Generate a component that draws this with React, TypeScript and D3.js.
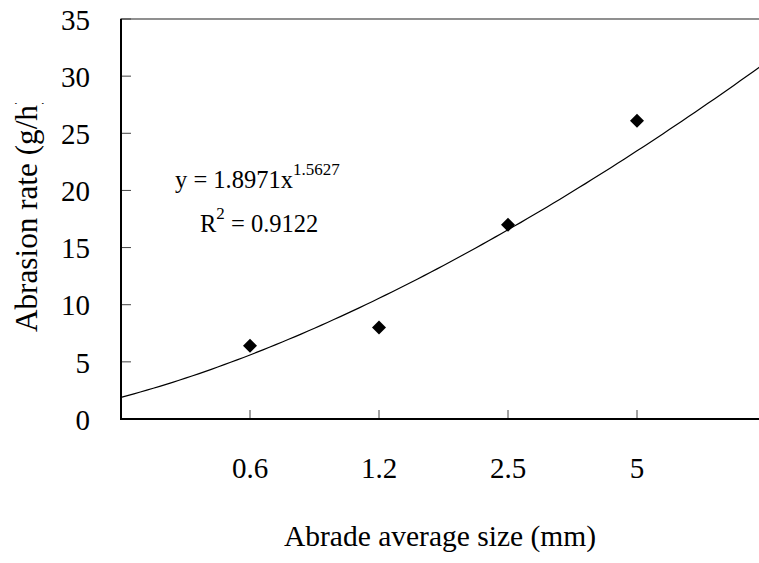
import React, { useEffect, useRef } from "react";
import * as d3 from "d3";

// categories on the x axis (shown at positions 2..5 of the trendline's x)
const categories = ["0.6", "1.2", "2.5", "5"];
// measured abrasion rate (g/h)
const abrasionRate = [6.4, 8.0, 17.0, 26.1];
const yTicks = [0, 5, 10, 15, 20, 25, 30, 35];

// power trendline as printed on the chart
const trendCoef = 1.8971;
const trendExp = 1.5627;
const rSquared = 0.9122;

const App = () => {
  const svgRef = useRef<SVGSVGElement>(null);

  useEffect(() => {
    const dims = { width: 759, height: 563, left: 121, top: 19, right: 766, bottom: 419 };

    const svg = d3.select(svgRef.current)
      .attr("width", dims.width)
      .attr("height", dims.height);
    svg.selectAll("*").remove();

    const font = "'Liberation Serif', 'Times New Roman', serif";

    const xScale = d3.scaleLinear().domain([1, 6]).range([dims.left, dims.right]);
    const yScale = d3.scaleLinear().domain([0, 35]).range([dims.bottom, dims.top]);
    const xPos = (i: number) => xScale(i + 2);

    // plot area border (top / right)
    svg.append("rect")
      .attr("x", dims.left)
      .attr("y", dims.top)
      .attr("width", dims.right - dims.left)
      .attr("height", dims.bottom - dims.top)
      .attr("fill", "none")
      .attr("stroke", "#555")
      .attr("stroke-width", 1.3);

    // trendline
    const xs = d3.range(1, 6.001, 0.05);
    const line = d3.line<number>()
      .x(d => xScale(d))
      .y(d => yScale(trendCoef * Math.pow(d, trendExp)));
    svg.append("path")
      .datum(xs)
      .attr("d", line)
      .attr("fill", "none")
      .attr("stroke", "#000")
      .attr("stroke-width", 1.2);

    // y ticks (inward)
    const yg = svg.append("g");
    yg.selectAll("line")
      .data(yTicks)
      .join("line")
      .attr("x1", dims.left)
      .attr("x2", dims.left + 10)
      .attr("y1", d => yScale(d))
      .attr("y2", d => yScale(d))
      .attr("stroke", "#444")
      .attr("stroke-width", 1);
    yg.selectAll("text")
      .data(yTicks)
      .join("text")
      .attr("x", 90)
      .attr("y", d => yScale(d))
      .attr("dy", "0.37em")
      .attr("text-anchor", "end")
      .attr("font-family", font)
      .attr("font-size", 29)
      .text(d => d);

    // x ticks (inward)
    const xg = svg.append("g");
    xg.selectAll("line")
      .data(categories)
      .join("line")
      .attr("x1", (_, i) => xPos(i))
      .attr("x2", (_, i) => xPos(i))
      .attr("y1", dims.bottom)
      .attr("y2", dims.bottom - 9)
      .attr("stroke", "#444")
      .attr("stroke-width", 1);
    xg.selectAll("text")
      .data(categories)
      .join("text")
      .attr("x", (_, i) => xPos(i))
      .attr("y", 478)
      .attr("text-anchor", "middle")
      .attr("font-family", font)
      .attr("font-size", 29)
      .text(d => d);

    // axis lines
    svg.append("line")
      .attr("x1", dims.left).attr("x2", dims.left)
      .attr("y1", dims.top).attr("y2", dims.bottom + 1)
      .attr("stroke", "#000").attr("stroke-width", 2);
    svg.append("line")
      .attr("x1", dims.left - 1).attr("x2", dims.right)
      .attr("y1", dims.bottom).attr("y2", dims.bottom)
      .attr("stroke", "#000").attr("stroke-width", 2);

    // data points
    svg.append("g")
      .selectAll("path")
      .data(abrasionRate)
      .join("path")
      .attr("d", d3.symbol(d3.symbolSquare, 98)())
      .attr("transform", (d, i) => `translate(${xPos(i)},${yScale(d)}) rotate(45)`)
      .attr("fill", "#000");

    // trendline label
    const eq = svg.append("text")
      .attr("x", 175)
      .attr("y", 188)
      .attr("font-family", font)
      .attr("font-size", 24.5);
    eq.append("tspan").text(`y = ${trendCoef}x`);
    eq.append("tspan").attr("dy", -13).attr("font-size", 17).text(`${trendExp}`);

    const r2 = svg.append("text")
      .attr("x", 200)
      .attr("y", 232)
      .attr("font-family", font)
      .attr("font-size", 24.5);
    r2.append("tspan").text("R");
    r2.append("tspan").attr("dy", -13).attr("font-size", 17).text("2");
    r2.append("tspan").attr("dy", 13).text(` = ${rSquared}`);

    // axis titles
    svg.append("text")
      .attr("x", 440)
      .attr("y", 546)
      .attr("text-anchor", "middle")
      .attr("font-family", font)
      .attr("font-size", 29.5)
      .text("Abrade average size (mm)");

    // y title is cut off at the top in the original
    svg.append("clipPath")
      .attr("id", "ytitle-clip")
      .append("rect")
      .attr("x", 0).attr("y", 103)
      .attr("width", 100).attr("height", 400);
    svg.append("g")
      .attr("clip-path", "url(#ytitle-clip)")
      .append("text")
      .attr("transform", "translate(37,332) rotate(-90)")
      .attr("font-family", font)
      .attr("font-size", 31.2)
      .text("Abrasion rate (g/h)");
  }, []);

  return (
    <svg ref={svgRef} style={{ position: "absolute", left: 0, top: 0, background: "#fff" }}></svg>
  );
};

export default App;
